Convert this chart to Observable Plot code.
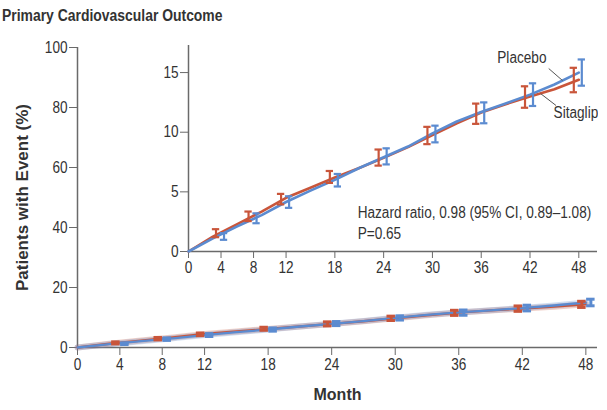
<!DOCTYPE html>
<html>
<head>
<meta charset="utf-8">
<script src="https://cdn.jsdelivr.net/npm/d3@7"></script>
<script src="https://cdn.jsdelivr.net/npm/@observablehq/plot@0.6"></script>
<style>
  html, body { margin: 0; padding: 0; background: #fff; }
  #chart {
    position: relative; width: 607px; height: 410px; overflow: hidden;
    font-family: "Liberation Sans", Arial, sans-serif; color: #333;
  }
  #chart svg { position: absolute; left: 0; top: 0; overflow: hidden; }
  #title {
    position: absolute; left: 2px; top: 7px; font-size: 16px; font-weight: bold;
    color: #333; z-index: 2; white-space: nowrap;
    transform: scaleX(0.87); transform-origin: left center;
  }
</style>
</head>
<body>
<div id="chart"><div id="title">Primary Cardiovascular Outcome</div></div>
<script>
// Cumulative incidence (%) of the primary outcome, read every 3 months
const months      = [0, 3, 6, 9, 12, 15, 18, 21, 24, 27, 30, 33, 36, 39, 42, 45, 48];
const sitagliptin = [0, 1.25, 2.3, 3.35, 4.5, 5.35, 6.2, 7.0, 7.85, 8.75, 9.75, 10.75, 11.65, 12.35, 13.0, 13.6, 14.4];
const placebo     = [0, 1.1, 2.1, 3.05, 4.15, 5.1, 6.0, 7.0, 7.9, 8.8, 9.9, 10.9, 11.7, 12.4, 13.15, 14.0, 15.0];

// 95% confidence intervals at the marked time points
const ciMonths = [4, 8, 12, 18, 24, 30, 36, 42, 48];
const sitaLow  = [1.2, 2.55, 3.95, 5.75, 7.2, 9.0, 10.7, 12.05, 13.35];
const sitaHigh = [1.87, 3.35, 4.83, 6.75, 8.55, 10.45, 12.4, 13.85, 15.4];
const placLow  = [0.98, 2.37, 3.66, 5.45, 7.3, 9.15, 10.75, 12.2, 13.9];
const placHigh = [1.54, 3.2, 4.63, 6.5, 8.65, 10.55, 12.5, 14.1, 16.1];

const xTicks = [0, 4, 8, 12, 18, 24, 30, 36, 42, 48];
const yTicksMain = [0, 20, 40, 60, 80, 100];
const yTicksInset = [0, 5, 10, 15];

const RED = "#c9553a";
const BLUE = "#5b8bd0";
const AXIS = "#6a6a6a";
const FONT = '"Liberation Sans", Arial, sans-serif';

const curves = [
  ...months.map((m, i) => ({month: m, pct: sitagliptin[i], group: "Sitagliptin"})),
  ...months.map((m, i) => ({month: m, pct: placebo[i], group: "Placebo"}))
];
const sitaCurve = curves.filter(d => d.group === "Sitagliptin");
const placCurve = curves.filter(d => d.group === "Placebo");
const sitaCI = ciMonths.map((m, i) => ({month: m, low: sitaLow[i], high: sitaHigh[i]}));
const placCI = ciMonths.map((m, i) => ({month: m, low: placLow[i], high: placHigh[i]}));

// Error bars: vertical rule plus two caps, nudged sideways in pixels
function errorBars(ci, color, dx, capHalf, width) {
  return [
    Plot.ruleX(ci, {x: "month", y1: "low", y2: "high", stroke: color, strokeWidth: width, dx}),
    Plot.ruleY(ci, {y: "low", x1: d => d.month - capHalf, x2: d => d.month + capHalf, stroke: color, strokeWidth: width, dx}),
    Plot.ruleY(ci, {y: "high", x1: d => d.month - capHalf, x2: d => d.month + capHalf, stroke: color, strokeWidth: width, dx})
  ];
}

const style = {fontFamily: FONT, fontSize: "16px", color: "#333", background: "transparent", overflow: "hidden"};

// Full-scale plot (0–100%)
const main = Plot.plot({
  width: 607, height: 410,
  marginLeft: 77, marginRight: 10, marginTop: 47, marginBottom: 63,
  style,
  x: {domain: [0, 49.1]},
  y: {domain: [0, 100]},
  marks: [
    Plot.ruleX([0], {stroke: AXIS, strokeWidth: 1.5}),
    Plot.ruleY([0], {stroke: AXIS, strokeWidth: 1.5}),
    Plot.axisX({ticks: xTicks, tickSize: 8, tickPadding: 3, stroke: AXIS, label: null, fill: "#333"}),
    Plot.axisY({ticks: yTicksMain, tickSize: 8, tickPadding: 2, stroke: AXIS, label: null, fill: "#333"}),
    Plot.line(curves, {x: "month", y: "pct", z: "group", stroke: d => d.group === "Placebo" ? BLUE : RED, strokeWidth: 6, strokeOpacity: 0.28}),
    Plot.line(sitaCurve, {x: "month", y: "pct", stroke: RED, strokeWidth: 2.3}),
    Plot.line(placCurve, {x: "month", y: "pct", stroke: BLUE, strokeWidth: 2.3}),
    ...errorBars(sitaCI, RED, -4, 0.4, 3),
    ...errorBars(placCI, BLUE, 5, 0.4, 3),
    Plot.text(["Month"], {frameAnchor: "bottom", dy: 52, fontWeight: "bold", fill: "#333"}),
    Plot.text(["Patients with Event (%)"], {frameAnchor: "left", textAnchor: "middle", dx: -55, rotate: -90, fontWeight: "bold", fontSize: 17, fill: "#333"})
  ]
});

// Zoomed inset (0–17%), cut at the right edge of the panel
const inset = Plot.plot({
  width: 598, height: 410,
  marginLeft: 188, marginRight: 1, marginTop: 45, marginBottom: 159,
  style,
  x: {domain: [0, 50.3]},
  y: {domain: [0, 17.27]},
  marks: [
    Plot.ruleX([0], {stroke: AXIS, strokeWidth: 1.5}),
    Plot.ruleY([0], {stroke: AXIS, strokeWidth: 1.5}),
    Plot.axisX({ticks: xTicks, tickSize: 7, tickPadding: 3, stroke: AXIS, label: null, fill: "#333"}),
    Plot.axisY({ticks: yTicksInset, tickSize: 8, tickPadding: 2, stroke: AXIS, label: null, fill: "#333"}),
    Plot.line(sitaCurve, {x: "month", y: "pct", stroke: RED, strokeWidth: 2.6}),
    Plot.line(placCurve, {x: "month", y: "pct", stroke: BLUE, strokeWidth: 2.6}),
    ...errorBars(sitaCI, RED, -5, 0.45, 2.2),
    ...errorBars(placCI, BLUE, 3, 0.45, 2.2),
    Plot.link([0], {x1: 44.3, y1: 15.34, x2: 46.0, y2: 14.33, stroke: "#555", strokeWidth: 1}),
    Plot.link([0], {x1: 43.3, y1: 13.24, x2: 45.2, y2: 12.24, stroke: "#555", strokeWidth: 1}),
    Plot.text(["Placebo"], {x: 41.0, y: 16.26, textAnchor: "middle", fill: "#333"}),
    Plot.text(["Sitagliptin"], {x: 44.9, y: 11.65, textAnchor: "start", fill: "#333"}),
    Plot.text(["Hazard ratio, 0.98 (95% CI, 0.89–1.08)"], {x: 20.8, y: 3.2, textAnchor: "start", fill: "#333"}),
    Plot.text(["P=0.65"], {x: 20.8, y: 1.5, textAnchor: "start", fill: "#333"})
  ]
});

const chart = document.getElementById("chart");
chart.appendChild(main);
chart.appendChild(inset);

// Condense the regular lettering to a narrow set width (bold headings stay as set)
for (const svg of [main, inset]) {
  for (const t of svg.querySelectorAll("text")) {
    if (t.closest('[font-weight="bold"]')) continue;
    const len = t.getComputedTextLength();
    if (len > 0) {
      t.setAttribute("textLength", (len * 0.85).toFixed(1));
      t.setAttribute("lengthAdjust", "spacingAndGlyphs");
    }
  }
}
</script>
</body>
</html>
